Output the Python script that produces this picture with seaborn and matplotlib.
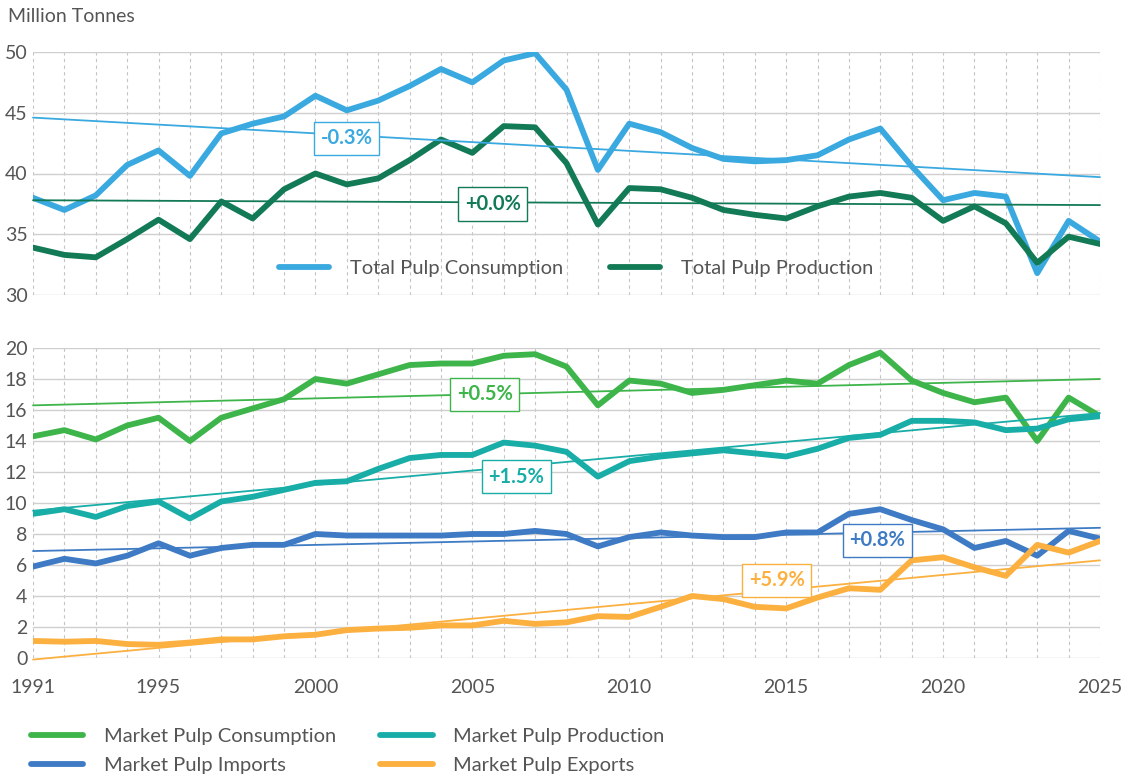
import numpy as np
import pandas as pd
import matplotlib.pyplot as plt
import seaborn as sns

years = list(range(1991, 2026))
year_labels = ["1991", "1995", "2000", "2005", "2010", "2015", "2020", "2025"]

# top panel (million tonnes)
total_consumption = [38.0, 37.0, 38.2, 40.7, 41.9, 39.8, 43.3, 44.1, 44.7, 46.4,
                     45.2, 46.0, 47.2, 48.6, 47.5, 49.3, 49.9, 46.9, 40.3, 44.1,
                     43.4, 42.1, 41.2, 41.0, 41.1, 41.5, 42.8, 43.7, 40.6, 37.8,
                     38.4, 38.1, 31.8, 36.1, 34.4]
total_production = [33.9, 33.3, 33.1, 34.6, 36.2, 34.6, 37.7, 36.3, 38.7, 40.0,
                    39.1, 39.6, 41.1, 42.8, 41.7, 43.9, 43.8, 40.85, 35.8, 38.8,
                    38.7, 38.0, 37.0, 36.6, 36.3, 37.3, 38.1, 38.4, 38.0, 36.1,
                    37.3, 35.9, 32.65, 34.8, 34.2]

# bottom panel (million tonnes)
market_consumption = [14.3, 14.7, 14.1, 15.0, 15.5, 14.0, 15.5, 16.1, 16.7, 18.0,
                      17.7, 18.3, 18.9, 19.0, 19.0, 19.5, 19.6, 18.8, 16.3, 17.9,
                      17.7, 17.1, 17.3, 17.6, 17.9, 17.7, 18.9, 19.7, 17.9, 17.1,
                      16.5, 16.8, 14.0, 16.8, 15.6]
market_production = [9.3, 9.6, 9.1, 9.8, 10.1, 9.0, 10.1, 10.4, 10.85, 11.3,
                     11.4, 12.2, 12.9, 13.1, 13.1, 13.9, 13.7, 13.3, 11.7, 12.7,
                     13.0, 13.2, 13.4, 13.2, 13.0, 13.5, 14.2, 14.4, 15.3, 15.3,
                     15.2, 14.7, 14.8, 15.4, 15.6]
market_imports = [5.9, 6.4, 6.1, 6.6, 7.4, 6.6, 7.1, 7.3, 7.3, 8.0,
                  7.9, 7.9, 7.9, 7.9, 8.0, 8.0, 8.2, 8.0, 7.2, 7.8,
                  8.1, 7.9, 7.8, 7.8, 8.1, 8.1, 9.3, 9.6, 8.9, 8.3,
                  7.1, 7.55, 6.6, 8.2, 7.7]
market_exports = [1.1, 1.05, 1.1, 0.9, 0.85, 1.0, 1.2, 1.2, 1.4, 1.5,
                  1.8, 1.9, 1.95, 2.1, 2.1, 2.4, 2.2, 2.3, 2.7, 2.65,
                  3.3, 4.0, 3.8, 3.3, 3.2, 3.9, 4.5, 4.4, 6.3, 6.5,
                  5.85, 5.3, 7.3, 6.8, 7.55]

# trend lines: value at 1991 and at 2025, growth label and where it sits
top_names = ["Total Pulp Consumption", "Total Pulp Production"]
top_trend_start = [44.6, 37.8]
top_trend_end = [39.7, 37.4]
top_growth = ["-0.3%", "+0.0%"]
top_label_pos = [(2001.0, 42.9), (2005.65, 37.5)]

bot_names = ["Market Pulp Consumption", "Market Pulp Production",
             "Market Pulp Imports", "Market Pulp Exports"]
bot_trend_start = [16.3, 9.5, 6.9, -0.1]
bot_trend_end = [18.0, 15.8, 8.4, 6.3]
bot_growth = ["+0.5%", "+1.5%", "+0.8%", "+5.9%"]
bot_label_pos = [(2005.4, 17.0), (2006.4, 11.7), (2017.9, 7.6), (2014.7, 5.0)]

top_colors = ["#3aa9e0", "#137a56"]
bot_colors = ["#3db54a", "#19ada8", "#3e7bc4", "#fcb040"]

sns.set_style("white")
plt.rcParams['font.family'] = ['Lato', 'DejaVu Sans']
grey = "#555555"

fig = plt.figure(figsize=(11.32, 7.80), dpi=100)
ax_top = fig.add_axes([33 / 1132, 1 - 295 / 780, 1067 / 1132, 243 / 780])
ax_bot = fig.add_axes([33 / 1132, 1 - 658 / 780, 1067 / 1132, 310 / 780])


def style_axis(ax, ylim, yticks):
    ax.set_xlim(1991, 2025)
    ax.set_ylim(*ylim)
    ax.set_yticks(yticks)
    for s in ax.spines.values():
        s.set_visible(False)
    ax.grid(axis='y', color='#cfcfcf', lw=1.0, ls='-')
    ax.grid(axis='x', color='#c4c4c4', lw=0.8, ls=(0, (3, 3)))
    ax.tick_params(length=0, labelsize=14, colors=grey)
    ax.tick_params(axis='y', pad=4)
    ax.set_axisbelow(True)


def draw_panel(ax, series, names, colors, t0, t1, growth, pos):
    for vals, name, c in zip(series, names, colors):
        sns.lineplot(x=years, y=vals, ax=ax, color=c, lw=4.2, label=name,
                     solid_joinstyle='round', solid_capstyle='round', legend=False)
    for c, a, b, g, (lx, ly) in zip(colors, t0, t1, growth, pos):
        ax.plot([years[0], years[-1]], [a, b], color=c, lw=1.3, clip_on=False)
        ax.text(lx, ly, g, ha='center', va='center', color=c, fontsize=14.5,
                fontweight='bold', zorder=5,
                bbox=dict(boxstyle='square,pad=0.33', fc='white', ec=c, lw=1))
    ax.set_xlabel('')
    ax.set_ylabel('')


draw_panel(ax_top, [total_consumption, total_production], top_names, top_colors,
           top_trend_start, top_trend_end, top_growth, top_label_pos)
draw_panel(ax_bot, [market_consumption, market_production, market_imports, market_exports],
           bot_names, bot_colors, bot_trend_start, bot_trend_end, bot_growth, bot_label_pos)

style_axis(ax_top, (30, 50), [30, 35, 40, 45, 50])
ax_top.set_xticks(years)
ax_top.set_xticklabels([])
style_axis(ax_bot, (0, 20), list(range(0, 21, 2)))
ax_bot.set_xticks(years)
ax_bot.set_xticklabels([str(y) if str(y) in year_labels else "" for y in years])
ax_bot.tick_params(axis='x', pad=15)

leg_font = {'size': 14.5}

h, l = ax_top.get_legend_handles_labels()
ax_top.legend(h[:2], l[:2], loc='center', bbox_to_anchor=(576 / 1132, 1 - 268 / 780),
              bbox_transform=fig.transFigure, ncol=2, frameon=False, prop=leg_font,
              handlelength=2.5, handletextpad=1.0, columnspacing=2.35, labelcolor=grey)

h, l = ax_bot.get_legend_handles_labels()
order = [0, 2, 1, 3]
fig.legend([h[i] for i in order], [l[i] for i in order], loc='center left',
           bbox_to_anchor=(13 / 1132, 1 - 751 / 780), ncol=2, frameon=False,
           prop=leg_font, handlelength=2.6, handletextpad=1.0, columnspacing=2.2,
           labelspacing=0.62, labelcolor=grey)

fig.text(8 / 1132, 1 - 16 / 780, "Million Tonnes", va='center', ha='left',
         fontsize=14, color=grey)

fig.savefig("out.png", dpi=100)
